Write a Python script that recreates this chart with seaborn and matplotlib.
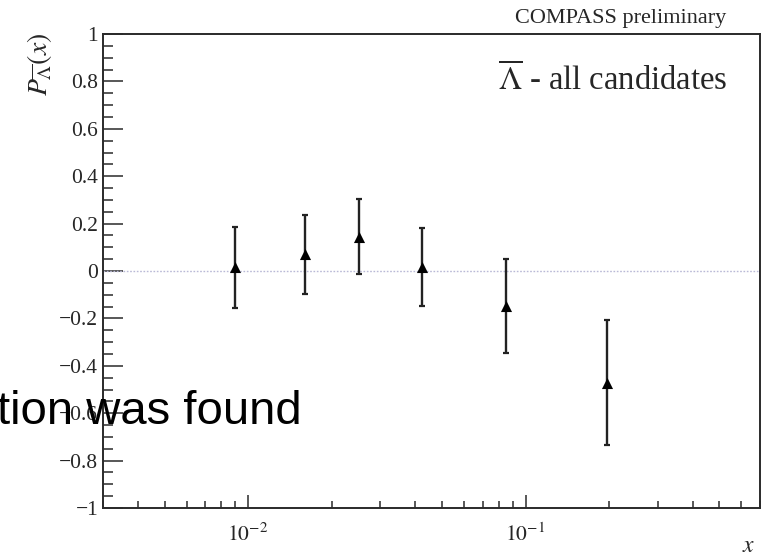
import numpy as np
import pandas as pd
import matplotlib
matplotlib.use("Agg")
import matplotlib.pyplot as plt
from matplotlib.ticker import MultipleLocator, LogLocator, FixedLocator, NullFormatter
import seaborn as sns

# ---- data ----
x_vals = [0.009, 0.0161, 0.0252, 0.0422, 0.0847, 0.197]
p_vals = [0.015, 0.070, 0.145, 0.018, -0.148, -0.472]
p_errs = [0.172, 0.167, 0.157, 0.165, 0.200, 0.264]

y_tick_vals = [-1, -0.8, -0.6, -0.4, -0.2, 0, 0.2, 0.4, 0.6, 0.8, 1]
y_tick_labels = ["\u22121", "\u22120.8", "\u22120.6", "\u22120.4", "\u22120.2",
                 "0", "0.2", "0.4", "0.6", "0.8", "1"]
x_tick_vals = [0.01, 0.1]
x_tick_labels = [r"$10^{-2}$", r"$10^{-1}$"]

df = pd.DataFrame({"x": x_vals, "P": p_vals, "err": p_errs})

sns.set_style("ticks")
plt.rcParams["font.family"] = ["Liberation Serif", "DejaVu Serif"]
plt.rcParams["mathtext.fontset"] = "stix"

W, H = 767, 559
fig = plt.figure(figsize=(W / 100, H / 100), dpi=100)
ax = fig.add_axes([103 / W, 1 - 508 / H, 657 / W, 474 / H])

ax.set_xscale("log")
ax.set_xlim(0.003, 0.7)
ax.set_ylim(-1, 1)

# zero reference line
ax.axhline(0, color="#b9b9d6", lw=1.0, ls=(0, (1.2, 1.2)), zorder=1)

# error bars
ax.errorbar(df["x"], df["P"], yerr=df["err"], fmt="none", ecolor="#222222",
            elinewidth=1.7, capsize=2.2, capthick=1.6, zorder=3)
# markers
sns.scatterplot(data=df, x="x", y="P", marker="^", s=64, color="black",
                edgecolor="black", linewidth=0, ax=ax, zorder=4, legend=False)

# axes styling
for side in ["left", "bottom", "top", "right"]:
    ax.spines[side].set_color("#2a2a2a")
    ax.spines[side].set_linewidth(1.4)

ax.yaxis.set_major_locator(FixedLocator(y_tick_vals))
ax.set_yticklabels(y_tick_labels)
ax.yaxis.set_minor_locator(MultipleLocator(0.05))
ax.xaxis.set_major_locator(FixedLocator(x_tick_vals))
ax.set_xticklabels(x_tick_labels)
ax.xaxis.set_minor_locator(LogLocator(base=10, subs=np.arange(2, 10)))
ax.xaxis.set_minor_formatter(NullFormatter())

ax.tick_params(axis="y", which="major", direction="in", length=14.5, width=1.1,
               color="#2a2a2a", labelsize=15.5, pad=3.5, right=False)
ax.tick_params(axis="y", which="minor", direction="in", length=7.2, width=1.1,
               color="#2a2a2a", right=False)
ax.tick_params(axis="x", which="major", direction="in", length=9.5, width=1.1,
               color="#2a2a2a", labelsize=15.5, pad=11, top=False)
ax.tick_params(axis="x", which="minor", direction="in", length=5, width=1.1,
               color="#2a2a2a", top=False)

ax.set_xlabel("")
ax.set_ylabel("")

# axis titles
fig.text(40 / W, 1 - 33 / H, r"$P_{\overline{\Lambda}}(x)$", rotation=90,
         ha="center", va="top", fontsize=20)
fig.text(749 / W, 1 - 557 / H, r"$x$", ha="center", va="bottom", fontsize=17)

# annotations
fig.text(621 / W, 1 - 19 / H, "COMPASS preliminary", ha="center", va="center",
         fontsize=16)
ax.text(0.951, 0.903, r"$\overline{\Lambda}$ - all candidates", transform=ax.transAxes,
        ha="right", va="center", fontsize=23.5)

fig.text(302 / W, 1 - 424 / H, "tion was found", ha="right", va="baseline",
         fontsize=34, family=["Liberation Sans", "DejaVu Sans"], color="black",
         zorder=10)

fig.savefig("out.png", dpi=100)
